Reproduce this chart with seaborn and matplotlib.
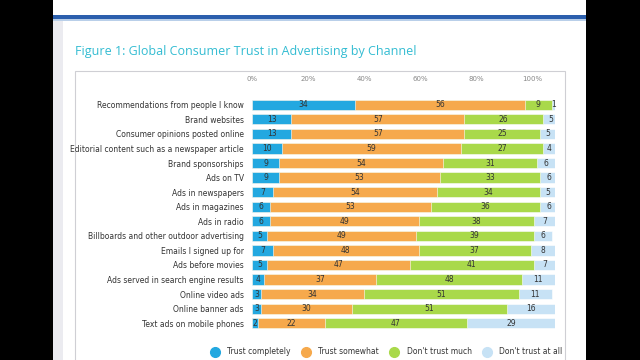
import matplotlib
matplotlib.use("Agg")
import matplotlib.pyplot as plt
from matplotlib.patches import Rectangle
from matplotlib.lines import Line2D
import seaborn as sns
import pandas as pd

# Figure 1: Global Consumer Trust in Advertising by Channel (percent of respondents)
channels = [
    "Recommendations from people I know",
    "Brand websites",
    "Consumer opinions posted online",
    "Editorial content such as a newspaper article",
    "Brand sponsorships",
    "Ads on TV",
    "Ads in newspapers",
    "Ads in magazines",
    "Ads in radio",
    "Billboards and other outdoor advertising",
    "Emails I signed up for",
    "Ads before movies",
    "Ads served in search engine results",
    "Online video ads",
    "Online banner ads",
    "Text ads on mobile phones",
]
trust_completely = [34, 13, 13, 10, 9, 9, 7, 6, 6, 5, 7, 5, 4, 3, 3, 2]
trust_somewhat = [56, 57, 57, 59, 54, 53, 54, 53, 49, 49, 48, 47, 37, 34, 30, 22]
dont_trust_much = [9, 26, 25, 27, 31, 33, 34, 36, 38, 39, 37, 41, 48, 51, 51, 47]
dont_trust_at_all = [1, 5, 5, 4, 6, 6, 5, 6, 7, 6, 8, 7, 11, 11, 16, 29]

series_names = ["Trust completely", "Trust somewhat", "Don't trust much", "Don't trust at all"]
series_colors = ["#23a8e0", "#f6a94c", "#a9d94a", "#c7e2f5"]
tick_labels = ["0%", "20%", "40%", "60%", "80%", "100%"]

df = pd.DataFrame({
    "channel": channels,
    series_names[0]: trust_completely,
    series_names[1]: trust_somewhat,
    series_names[2]: dont_trust_much,
    series_names[3]: dont_trust_at_all,
})
cum = df[series_names].cumsum(axis=1)

fig = plt.figure(figsize=(6.4, 3.6), dpi=100, facecolor="black")

# slide background
fig.patches.append(Rectangle((53 / 640, 0), 533 / 640, 1, transform=fig.transFigure,
                             facecolor="white", edgecolor="none", zorder=-5))
fig.patches.append(Rectangle((53 / 640, 0), 10 / 640, 1 - 20 / 360, transform=fig.transFigure,
                             facecolor="#ebebf0", edgecolor="none", zorder=-4))
fig.patches.append(Rectangle((53 / 640, 1 - 19 / 360), 533 / 640, 4 / 360, transform=fig.transFigure,
                             facecolor="#2b5fad", edgecolor="none", zorder=-4))
fig.patches.append(Rectangle((53 / 640, 1 - 21 / 360), 533 / 640, 2 / 360, transform=fig.transFigure,
                             facecolor="#b9cfe9", edgecolor="none", zorder=-4))
# chart frame
fig.patches.append(Rectangle((75 / 640, -0.05), 490 / 640, 1 - 71 / 360 + 0.05, transform=fig.transFigure,
                             facecolor="white", edgecolor="#cfcfd4", linewidth=0.8, zorder=-3))

fig.text(75 / 640, 1 - 51 / 360, "Figure 1: Global Consumer Trust in Advertising by Channel",
         color="#33bcd2", fontsize=9, va="center", ha="left", family="Open Sans")

ax = fig.add_axes([252 / 640, 1 - 330.5 / 360, 303 / 640, 233 / 360])
ax.set_zorder(5)
ax.set_facecolor("none")

# stacked bars: draw cumulative totals from the back to the front
for i in range(3, -1, -1):
    sns.barplot(x=cum[series_names[i]], y=df["channel"], orient="h", color=series_colors[i],
                width=0.7, edgecolor="white", linewidth=0.4, saturation=1, ax=ax)

for i, name in enumerate(series_names):
    for j in range(len(channels)):
        v = df[name][j]
        ax.text(cum[name][j] - v / 2, j, str(v), ha="center", va="center",
                fontsize=5.5, color="#333333")

ax.set_xlim(0, 100)
ax.set_ylim(len(channels) - 0.5, -0.5)
ax.set_xlabel("")
ax.set_ylabel("")
for s in ax.spines.values():
    s.set_visible(False)
ax.xaxis.tick_top()
ax.set_xticks([k * 18.5 for k in range(6)])
ax.set_xticklabels(tick_labels, fontsize=5, color="#888888")
ax.tick_params(axis="x", length=0, pad=11)
ax.tick_params(axis="y", length=0, pad=6, labelsize=5.5, labelcolor="#333333")

handles = [Line2D([0], [0], marker="o", linestyle="none", markersize=7,
                  markerfacecolor=c, markeredgecolor=c) for c in series_colors]
fig.legend(handles, series_names, loc="center", bbox_to_anchor=(385 / 640, 1 - 352 / 360),
           ncol=4, frameon=False, fontsize=5.5, handletextpad=0.6, columnspacing=1.0,
           labelcolor="#333333")

fig.savefig("out.png", dpi=100, facecolor=fig.get_facecolor())
